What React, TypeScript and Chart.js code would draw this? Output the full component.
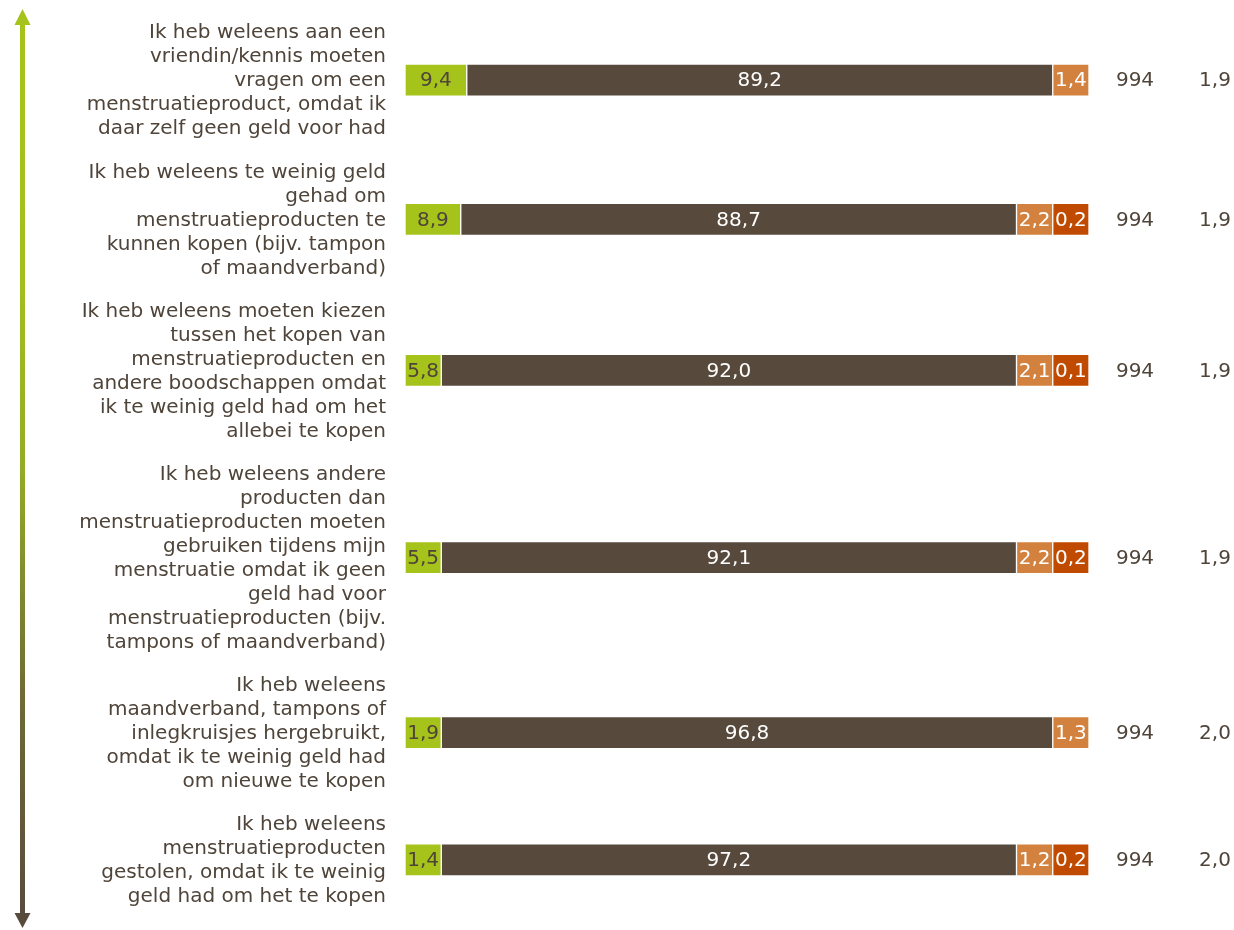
import React, { useEffect, useRef } from 'react';
import { Chart, registerables } from 'chart.js';

Chart.register(...registerables);

// ---- data ----
const categories: string[][] = [
  ['Ik heb weleens aan een', 'vriendin/kennis moeten', 'vragen om een', 'menstruatieproduct, omdat ik', 'daar zelf geen geld voor had'],
  ['Ik heb weleens te weinig geld', 'gehad om', 'menstruatieproducten te', 'kunnen kopen (bijv. tampon', 'of maandverband)'],
  ['Ik heb weleens moeten kiezen', 'tussen het kopen van', 'menstruatieproducten en', 'andere boodschappen omdat', 'ik te weinig geld had om het', 'allebei te kopen'],
  ['Ik heb weleens andere', 'producten dan', 'menstruatieproducten moeten', 'gebruiken tijdens mijn', 'menstruatie omdat ik geen', 'geld had voor', 'menstruatieproducten (bijv.', 'tampons of maandverband)'],
  ['Ik heb weleens', 'maandverband, tampons of', 'inlegkruisjes hergebruikt,', 'omdat ik te weinig geld had', 'om nieuwe te kopen'],
  ['Ik heb weleens', 'menstruatieproducten', 'gestolen, omdat ik te weinig', 'geld had om het te kopen'],
];
const seriesJa = [9.4, 8.9, 5.8, 5.5, 1.9, 1.4];
const seriesNee = [89.2, 88.7, 92.0, 92.1, 96.8, 97.2];
const seriesWeetNiet = [1.4, 2.2, 2.1, 2.2, 1.3, 1.2];
const seriesZegNiet = [0, 0.2, 0.1, 0.2, 0, 0.2];
const nValues = [994, 994, 994, 994, 994, 994];
const missingValues = [1.9, 1.9, 1.9, 1.9, 2.0, 2.0];

// ---- styling / layout constants ----
const COLORS = ['#A6C31B', '#574A3D', '#D2823E', '#C04B00'];
const LABEL_COLORS = ['#4F4439', '#FFFFFF', '#FFFFFF', '#FFFFFF'];
const TEXT_COLOR = '#4F4439';
const FONT = '"DejaVu Sans", Verdana, sans-serif';
const FONT_SIZE = 20;
const LINE_HEIGHT = 24;
const GAP = 0.8; // gap between label blocks, in line units
const MIN_SHARE = 5.3; // minimum displayed width for small segments (percent of bar)
const SMALL_LIMIT = 7;

const allSeries = [seriesJa, seriesNee, seriesWeetNiet, seriesZegNiet];

// row centres (in line units) derived from the number of label lines
const centers: number[] = [];
{
  let pos = 0;
  categories.forEach((lines) => {
    centers.push(pos + lines.length / 2);
    pos += lines.length + GAP;
  });
}
const yMax = categories.reduce((s, l) => s + l.length, 0) + GAP * (categories.length - 1) + GAP;

// displayed widths: small segments get a minimum width, others share the rest
const displayWidths: (number | null)[][] = allSeries.map(() => []);
for (let r = 0; r < categories.length; r++) {
  const vals = allSeries.map((s) => s[r]);
  const small = vals.map((v) => v > 0 && v < SMALL_LIMIT);
  const nSmall = small.filter(Boolean).length;
  const largeSum = vals.reduce((s, v, i) => (small[i] ? s : s + v), 0);
  const remain = 100 - nSmall * MIN_SHARE;
  vals.forEach((v, i) => {
    displayWidths[i][r] = v <= 0 ? null : small[i] ? MIN_SHARE : (remain * v) / largeSum;
  });
}

const fmt = (v: number) => v.toFixed(1).replace('.', ',');

export default function App() {
  const canvasRef = useRef<HTMLCanvasElement>(null);

  useEffect(() => {
    document.body.style.margin = '0';
    const canvas = canvasRef.current;
    if (!canvas) return;

    const arrowPlugin = {
      id: 'arrow',
      beforeDraw(chart: any) {
        const ctx = chart.ctx;
        const x = 22.5;
        const top = 9;
        const bottom = 928;
        const grad = ctx.createLinearGradient(0, top, 0, bottom);
        grad.addColorStop(0, '#A6C31B');
        grad.addColorStop(0.3, '#A2BE1E');
        grad.addColorStop(0.5, '#93AB26');
        grad.addColorStop(0.75, '#6E6B35');
        grad.addColorStop(1, '#574A3D');
        ctx.save();
        ctx.fillStyle = grad;
        ctx.fillRect(x - 2.5, top + 14, 5, bottom - top - 28);
        ctx.beginPath();
        ctx.moveTo(x, top);
        ctx.lineTo(x + 8, top + 16);
        ctx.lineTo(x - 8, top + 16);
        ctx.closePath();
        ctx.fill();
        ctx.beginPath();
        ctx.moveTo(x, bottom);
        ctx.lineTo(x + 8, bottom - 15);
        ctx.lineTo(x - 8, bottom - 15);
        ctx.closePath();
        ctx.fill();
        ctx.restore();
      },
    };

    const labelPlugin = {
      id: 'segLabels',
      afterDatasetsDraw(chart: any) {
        const ctx = chart.ctx;
        const { left, right } = chart.chartArea;
        const yScale = chart.scales.y;
        ctx.save();
        ctx.font = `${FONT_SIZE}px ${FONT}`;
        ctx.textBaseline = 'middle';

        // category labels (right aligned, multi-line, centred on bar)
        ctx.textAlign = 'right';
        ctx.fillStyle = TEXT_COLOR;
        categories.forEach((lines, i) => {
          const cy = yScale.getPixelForValue(centers[i]);
          lines.forEach((line, k) => {
            ctx.fillText(line, left - 19, cy + (k - (lines.length - 1) / 2) * LINE_HEIGHT + 1);
          });
        });

        // segment values
        ctx.textAlign = 'center';
        chart.data.datasets.forEach((_ds: any, d: number) => {
          const meta = chart.getDatasetMeta(d);
          meta.data.forEach((bar: any, i: number) => {
            const v = allSeries[d][i];
            if (!v) return;
            const p = bar.getProps(['x', 'base', 'y'], true);
            ctx.fillStyle = LABEL_COLORS[d];
            ctx.fillText(fmt(v), (p.x + p.base) / 2, p.y + 1);
          });
        });

        // side columns
        ctx.fillStyle = TEXT_COLOR;
        centers.forEach((c, i) => {
          const y = yScale.getPixelForValue(c) + 1;
          ctx.fillText(String(nValues[i]), right + 46, y);
          ctx.fillText(fmt(missingValues[i]), right + 126, y);
        });
        ctx.restore();
      },
    };

    const chart = new Chart(canvas, {
      type: 'bar',
      data: {
        datasets: allSeries.map((_s, d) => ({
          data: centers.map((c, i) => ({ x: displayWidths[d][i], y: c })) as any,
          backgroundColor: COLORS[d],
          borderColor: '#FFFFFF',
          borderWidth: 1,
          borderSkipped: false,
          barThickness: 32,
        })),
      },
      options: {
        indexAxis: 'y',
        animation: false,
        responsive: false,
        events: [],
        layout: { padding: { left: 405, right: 145, top: 1, bottom: 3 } },
        plugins: { legend: { display: false }, tooltip: { enabled: false } },
        scales: {
          x: { type: 'linear', min: 0, max: 100, stacked: true, display: false, offset: false },
          y: {
            type: 'linear',
            reverse: true,
            min: -GAP,
            max: yMax,
            bounds: 'data',
            offset: false,
            grace: 0,
            stacked: true,
            display: false,
          },
        },
      },
      plugins: [arrowPlugin, labelPlugin],
    });
    return () => chart.destroy();
  }, []);

  return (
    <div style={{ width: 1234, height: 930 }}>
      <canvas ref={canvasRef} width={1234} height={930} />
    </div>
  );
}
